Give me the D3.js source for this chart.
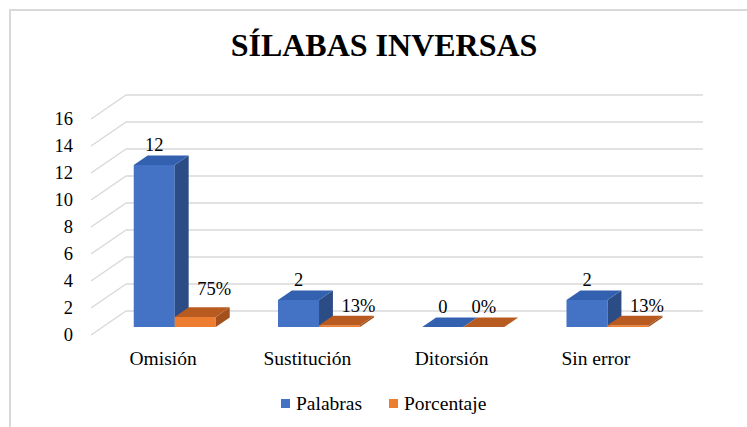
<!DOCTYPE html>
<html>
<head>
<meta charset="utf-8">
<script src="https://cdn.jsdelivr.net/npm/d3@7"></script>
</head>
<body style="margin:0">
<div id="chart"></div>
<script>
// data
var categories = ["Omisión", "Sustitución", "Ditorsión", "Sin error"];
var series = ["Palabras", "Porcentaje"];
var palabras = [12, 2, 0, 2];
var porcentaje = [0.75, 0.125, 0, 0.125];
var yTicks = [0, 2, 4, 6, 8, 10, 12, 14, 16];

var W = 747, H = 427;

// 3d look: depth d goes 0 (back wall) .. 1 (front edge)
var depthX = -35, depthY = 24;
var dFront = 0.667, dBack = 0.27;
function P(x, y, d) { return [x + depthX * d, y + depthY * d]; }

var colors = {
    Palabras: { front: "#4472c4", top: "#3361b0", side: "#2c4c86" },
    Porcentaje: { front: "#ed7d31", top: "#b85b20", side: "#a3501c" }
};

// Times / Liberation Serif advance widths (1/1000 em), used to anchor text by hand
var wReg = { " ": 250, "%": 833, "O": 722, "m": 778, "i": 278, "s": 389, "ó": 500, "n": 500, "S": 556,
    "u": 500, "t": 278, "c": 444, "D": 722, "o": 500, "r": 333, "e": 444, "P": 556, "a": 444,
    "l": 278, "b": 500, "j": 278 };
var wBold = { " ": 250, "S": 556, "Í": 389, "L": 667, "A": 722, "B": 667, "I": 389, "N": 722,
    "V": 722, "E": 667, "R": 722 };
function textW(s, size, bold) {
    var tab = bold ? wBold : wReg, sum = 0;
    for (var i = 0; i < s.length; i++) sum += (tab[s[i]] || 500);
    return sum * size / 1000;
}

var svg = d3.select("#chart").append("svg")
    .attr("width", W)
    .attr("height", H)
    .attr("font-family", "Liberation Serif");

// chart frame
svg.append("rect")
    .attr("x", 10).attr("y", 10)
    .attr("width", 760).attr("height", 440)
    .attr("fill", "#fff")
    .attr("stroke", "#d9d9d9")
    .attr("stroke-width", 2);

function txt(g, x, y, s, size, anchor, bold) {
    var w = textW(s, size, bold);
    if (anchor == "middle") x = x - w / 2;
    if (anchor == "end") x = x - w;
    var t = g.append("text")
        .attr("x", x)
        .attr("y", y)
        .attr("font-family", "Liberation Serif")
        .attr("font-size", size);
    if (bold) t.attr("font-weight", "bold");
    return t.text(s);
}

txt(svg, 384, 56, "SÍLABAS INVERSAS", 32, "middle", true);

var x = d3.scaleBand()
    .domain(categories)
    .range([126, 703])
    .paddingInner(0.431)
    .paddingOuter(0.2155);

var x1 = d3.scaleBand()
    .domain(series)
    .range([0, x.bandwidth()]);

var y = d3.scaleLinear()
    .domain([0, 16])
    .range([311, 95]);

// gridlines: back wall + left diagonal
var grid = svg.append("g").attr("stroke", "#d9d9d9").attr("stroke-width", 1.5);
yTicks.forEach(function(t) {
    var yy = y(t);
    grid.append("line")
        .attr("x1", x.range()[0]).attr("y1", yy)
        .attr("x2", x.range()[1]).attr("y2", yy);
    var f = P(x.range()[0], yy, 1);
    grid.append("line")
        .attr("x1", x.range()[0]).attr("y1", yy)
        .attr("x2", f[0]).attr("y2", f[1]);
});

// tick labels at front edge
var axisG = svg.append("g");
yTicks.forEach(function(t) {
    var f = P(x.range()[0], y(t), 1);
    txt(axisG, f[0] - 18, f[1] + 6, String(t), 18.5, "end");
});

// bars
var bars = [];
categories.forEach(function(c, i) {
    bars.push({ cat: c, s: "Palabras", v: palabras[i], label: String(palabras[i]) });
    bars.push({ cat: c, s: "Porcentaje", v: porcentaje[i], label: d3.format(".0%")(porcentaje[i]) });
});

function poly(pts) { return pts.map(function(p) { return p.join(","); }).join(" "); }

var barG = svg.append("g");
var labG = svg.append("g");
bars.forEach(function(b) {
    var x0 = x(b.cat) + x1(b.s), xR = x0 + x1.bandwidth();
    var yt = y(b.v), yb = y(0);
    var col = colors[b.s];
    if (b.v > 0) {
        barG.append("polygon")
            .attr("points", poly([P(x0, yt, dFront), P(xR, yt, dFront), P(xR, yb, dFront), P(x0, yb, dFront)]))
            .attr("fill", col.front);
        barG.append("polygon")
            .attr("points", poly([P(xR, yt, dFront), P(xR, yt, dBack), P(xR, yb, dBack), P(xR, yb, dFront)]))
            .attr("fill", col.side);
    }
    barG.append("polygon")
        .attr("points", poly([P(x0, yt, dFront), P(xR, yt, dFront), P(xR, yt, dBack), P(x0, yt, dBack)]))
        .attr("fill", col.top);

    var cx = (x0 + xR) / 2;
    var lp = P(cx, yt, dBack);
    var off = (b.s == "Porcentaje" && b.v > 0) ? 19 : 0;
    // the big orange label sits a bit higher in the original
    var up = (b.s == "Porcentaje" && b.v > 0.5) ? 12 : 4;
    txt(labG, lp[0] + depthX * (dFront - dBack) + off, lp[1] - up, b.label, 18.5, "middle");
});

// category labels
var catG = svg.append("g");
categories.forEach(function(c) {
    var f = P(x(c) + x.bandwidth() / 2, y(0), 1);
    txt(catG, f[0], 365, c, 19.5, "middle");
});

// legend
var leg = svg.append("g");
var legX = [281, 389];
series.forEach(function(s, i) {
    leg.append("rect")
        .attr("x", legX[i]).attr("y", 399)
        .attr("width", 9).attr("height", 9)
        .attr("fill", colors[s].front);
    txt(leg, legX[i] + 15, 410, s, 19.5);
});
</script>
</body>
</html>
